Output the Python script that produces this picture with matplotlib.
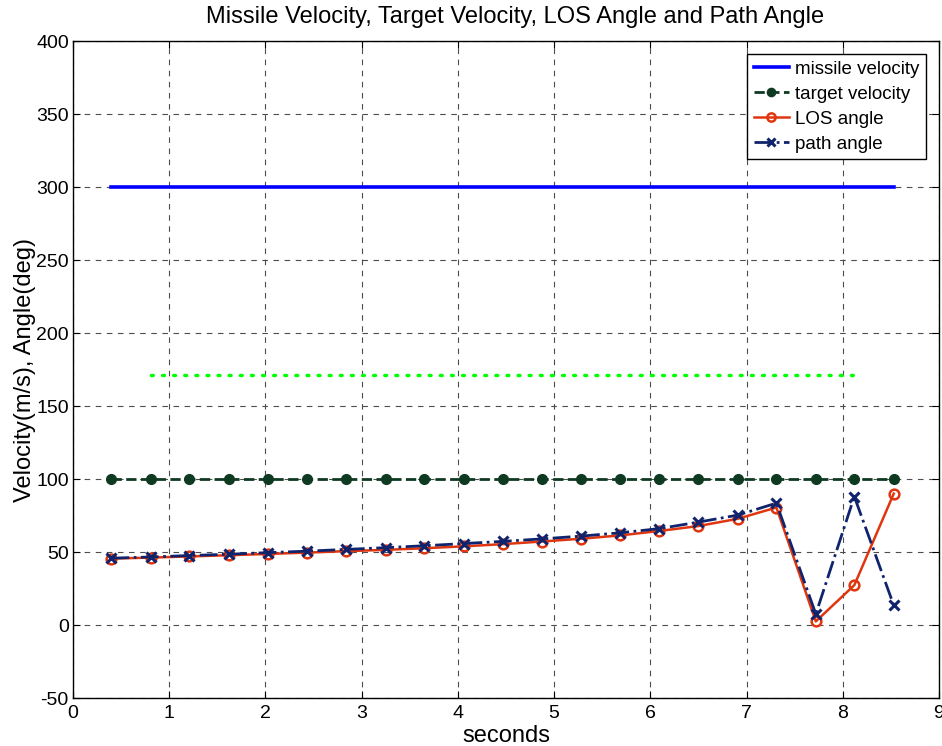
import matplotlib
matplotlib.use("Agg")
import matplotlib.pyplot as plt

plt.rcParams['font.family'] = ['Liberation Sans', 'DejaVu Sans']
plt.rcParams['axes.unicode_minus'] = False

# time samples (s)
t = [0.40, 0.81, 1.21, 1.62, 2.03, 2.43, 2.84, 3.25, 3.65, 4.06, 4.47,
     4.87, 5.28, 5.69, 6.09, 6.50, 6.91, 7.31, 7.72, 8.12, 8.53]

missile_vel = [300] * len(t)
target_vel = [100] * len(t)
los_angle = [45.5, 46.2, 47.0, 47.8, 48.7, 49.6, 50.6, 51.5, 52.6, 53.9, 55.4,
             57.2, 59.1, 61.4, 64.4, 67.8, 72.8, 80.5, 2.5, 27.3, 90.0]
path_angle = [45.8, 46.6, 47.6, 48.5, 49.6, 50.6, 51.8, 53.0, 54.3, 55.8, 57.3,
              59.0, 60.9, 63.2, 66.0, 70.5, 75.3, 83.5, 7.5, 88.0, 13.5]

# extra dotted reference line (not in legend)
ref_t = t[1:20]
ref_val = [171] * len(ref_t)

fig = plt.figure(figsize=(9.42, 7.46), dpi=100)
ax = fig.add_axes([0.0775, 0.0643, 0.9193, 0.8807])

ax.plot(t, missile_vel, color='#0000ff', lw=2.6, label='missile velocity')
ax.plot(t, target_vel, color='#0f3a22', lw=2, ls='--', marker='o', ms=7,
        label='target velocity')
ax.plot(t, los_angle, color='#e0360f', lw=1.8, marker='o', ms=7, mfc='none',
        mew=1.8, label='LOS angle')
ax.plot(t, path_angle, color='#10246e', lw=2, ls='-.', marker='x', ms=7,
        mew=2.2, label='path angle')
ax.plot(ref_t, ref_val, color='#00ff00', lw=2.5, ls=(0, (0.5, 2.7)),
        dash_capstyle='round')

ax.set_xlim(0, 9)
ax.set_ylim(-50, 400)
ax.set_xticks(range(0, 10))
ax.set_yticks(range(-50, 401, 50))
ax.tick_params(direction='in', labelsize=14, length=5, top=True, right=True)
ax.tick_params(axis='x', pad=5)
ax.tick_params(axis='y', pad=3)
ax.grid(True, color='0.3', ls=(0, (5, 5)), lw=0.8)
for s in ax.spines.values():
    s.set_linewidth(1)

ax.set_title('Missile Velocity, Target Velocity, LOS Angle and Path Angle',
             fontsize=17, pad=13, x=0.511)
ax.set_xlabel('seconds', fontsize=17, labelpad=2)
ax.set_ylabel('Velocity(m/s), Angle(deg)', fontsize=17, labelpad=0)

leg = ax.legend(loc='upper right', fontsize=13.5, fancybox=False,
                edgecolor='black', framealpha=1, borderaxespad=0.7,
                handlelength=1.9, handletextpad=0.3, labelspacing=0.42,
                borderpad=0.35, markerscale=0.85)
leg.get_frame().set_linewidth(1)

fig.savefig('out.png', dpi=100)
